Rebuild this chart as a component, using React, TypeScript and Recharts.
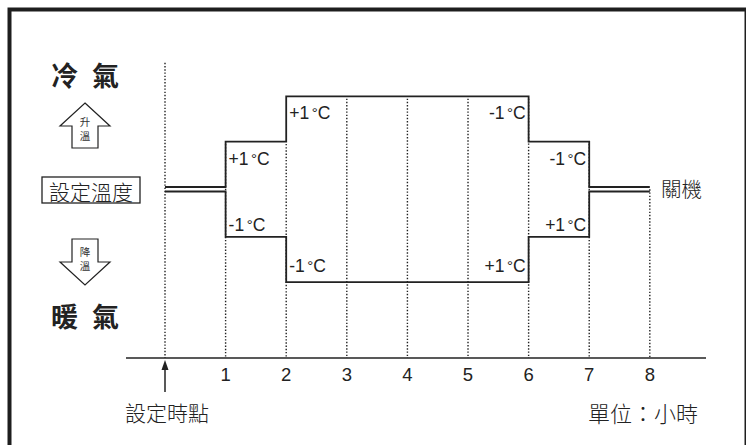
import React from 'react';
import { LineChart, Line, XAxis, YAxis, ReferenceLine, ReferenceDot } from 'recharts';

// hours after the set time
const hours = [0, 1, 2, 3, 4, 5, 6, 7, 8];
// cooling branch (temperature steps, °C relative to set point)
const coolLevels = [0, 1, 2, 2, 2, 2, 1, 0, 0];
// heating branch
const heatLevels = [0, -1, -2, -2, -2, -2, -1, 0, 0];
const tickHours = [1, 2, 3, 4, 5, 6, 7, 8];
// top of each dotted hour guide (level units)
const guideTops = [2.79, 1, 1, 2, 2, 2, 2, 1, 0];
const stepTexts = ['+1', '-1', '+1', '-1', '-1', '-1', '+1', '+1'];
const stepHours = [1, 1, 2, 2, 6, 7, 7, 6];
const stepLevels = [1, -1, 2, -2, 2, 1, -1, -2];

const SEP = 0.05;
const rows = hours.map((h, i) => ({
  h,
  cool: coolLevels[i] + SEP,
  heat: heatLevels[i] - SEP,
}));

const NUM_FONT = '"Liberation Sans", Arial, sans-serif';
const CJK_FONT = '"Noto Sans CJK TC", "Noto Sans CJK SC", sans-serif';
const INK = '#222';

const makeStepLabel = (i: number) => (props: any) => {
  const vb = props.viewBox || {};
  const cx = (vb.x ?? 0) + (vb.width ?? 0) / 2;
  const cy = (vb.y ?? 0) + (vb.height ?? 0) / 2;
  const start = stepHours[i] <= 2;
  const lvl = stepLevels[i];
  const dy = lvl > 0 ? 23 : lvl === -1 ? -6 : -10;
  return (
    <text
      x={cx + (start ? 3 : -3)}
      y={cy + dy}
      textAnchor={start ? 'start' : 'end'}
      fontFamily={NUM_FONT}
      fontSize={17.5}
      fill={INK}
    >
      {stepTexts[i]}
      <tspan dx={2.5} fontSize={15} dy={-1}>°</tspan>
      <tspan dy={1}>C</tspan>
    </text>
  );
};

export default function App() {
  return (
    <div style={{ position: 'absolute', left: 0, top: 0, width: 746, height: 445, background: '#fff' }}>
      <LineChart
        width={746}
        height={445}
        data={rows}
        margin={{ top: 53.35, right: 40, bottom: 57, left: 126 }}
      >
        <XAxis
          dataKey="h"
          type="number"
          domain={[-0.6436, 8.927]}
          ticks={tickHours}
          allowDataOverflow
          height={30}
          tickLine={false}
          tickMargin={4}
          axisLine={{ stroke: INK, strokeWidth: 1.5 }}
          tick={{ fill: INK, fontSize: 18.5, fontFamily: NUM_FONT }}
        />
        <YAxis hide type="number" domain={[-3.725, 3]} allowDataOverflow />
        {hours.map((h, i) => (
          <ReferenceLine
            key={'g' + h}
            segment={[{ x: h, y: guideTops[i] }, { x: h, y: -3.725 }]}
            stroke="#222"
            strokeWidth={1.4}
            strokeDasharray="1.4 1.8"
            ifOverflow="visible"
          />
        ))}
        <Line
          type="stepAfter"
          dataKey="cool"
          stroke={INK}
          strokeWidth={1.8}
          dot={false}
          isAnimationActive={false}
        />
        <Line
          type="stepAfter"
          dataKey="heat"
          stroke={INK}
          strokeWidth={1.8}
          dot={false}
          isAnimationActive={false}
        />
        {stepTexts.map((t, i) => (
          <ReferenceDot
            key={'l' + i}
            x={stepHours[i]}
            y={stepLevels[i] + (stepLevels[i] > 0 ? SEP : -SEP)}
            r={0}
            fill="none"
            stroke="none"
            ifOverflow="visible"
            label={{ content: makeStepLabel(i) }}
          />
        ))}
      </LineChart>
      <svg
        width={746}
        height={445}
        style={{ position: 'absolute', left: 0, top: 0, pointerEvents: 'none' }}
      >
        <rect x={9.5} y={9.5} width={737} height={470} fill="none" stroke="#1e1e1e" strokeWidth={4} />
        <text x={51} y={74} dominantBaseline="central" fontFamily={CJK_FONT} fontWeight={700} fontSize={27} letterSpacing={14} fill={INK}>冷氣</text>
        <polygon points="85,103 110,126 98,126 98,148 72,148 72,126 60,126" fill="#fff" stroke={INK} strokeWidth={1.2} />
        <text x={85} y={121.5} textAnchor="middle" dominantBaseline="central" fontFamily={CJK_FONT} fontSize={10.5} fill="#333">
          升<tspan x={85} dy={13.5}>溫</tspan>
        </text>
        <rect x={42} y={177} width={98} height={26} fill="#fff" stroke={INK} strokeWidth={1.3} />
        <text x={91} y={191} textAnchor="middle" dominantBaseline="central" fontFamily={CJK_FONT} fontWeight={300} fontSize={21} fill={INK}>設定溫度</text>
        <polygon points="72,239 98,239 98,262 110,262 85,285 60,262 72,262" fill="#fff" stroke={INK} strokeWidth={1.2} />
        <text x={85} y={251} textAnchor="middle" dominantBaseline="central" fontFamily={CJK_FONT} fontSize={10.5} fill="#333">
          降<tspan x={85} dy={13.5}>溫</tspan>
        </text>
        <text x={51} y={315} dominantBaseline="central" fontFamily={CJK_FONT} fontWeight={700} fontSize={27} letterSpacing={14} fill={INK}>暖氣</text>
        <text x={661} y={188} dominantBaseline="central" fontFamily={CJK_FONT} fontWeight={300} fontSize={20.5} fill={INK}>關機</text>
        <line x1={165} y1={392} x2={165} y2={368} stroke={INK} strokeWidth={1.5} />
        <polygon points="165,360 161.5,370 168.5,370" fill={INK} />
        <text x={125} y={412} dominantBaseline="central" fontFamily={CJK_FONT} fontWeight={300} fontSize={21} fill={INK}>設定時點</text>
        <text x={588} y={412} dominantBaseline="central" fontFamily={CJK_FONT} fontWeight={300} fontSize={22} fill={INK}>單位：小時</text>
      </svg>
    </div>
  );
}
